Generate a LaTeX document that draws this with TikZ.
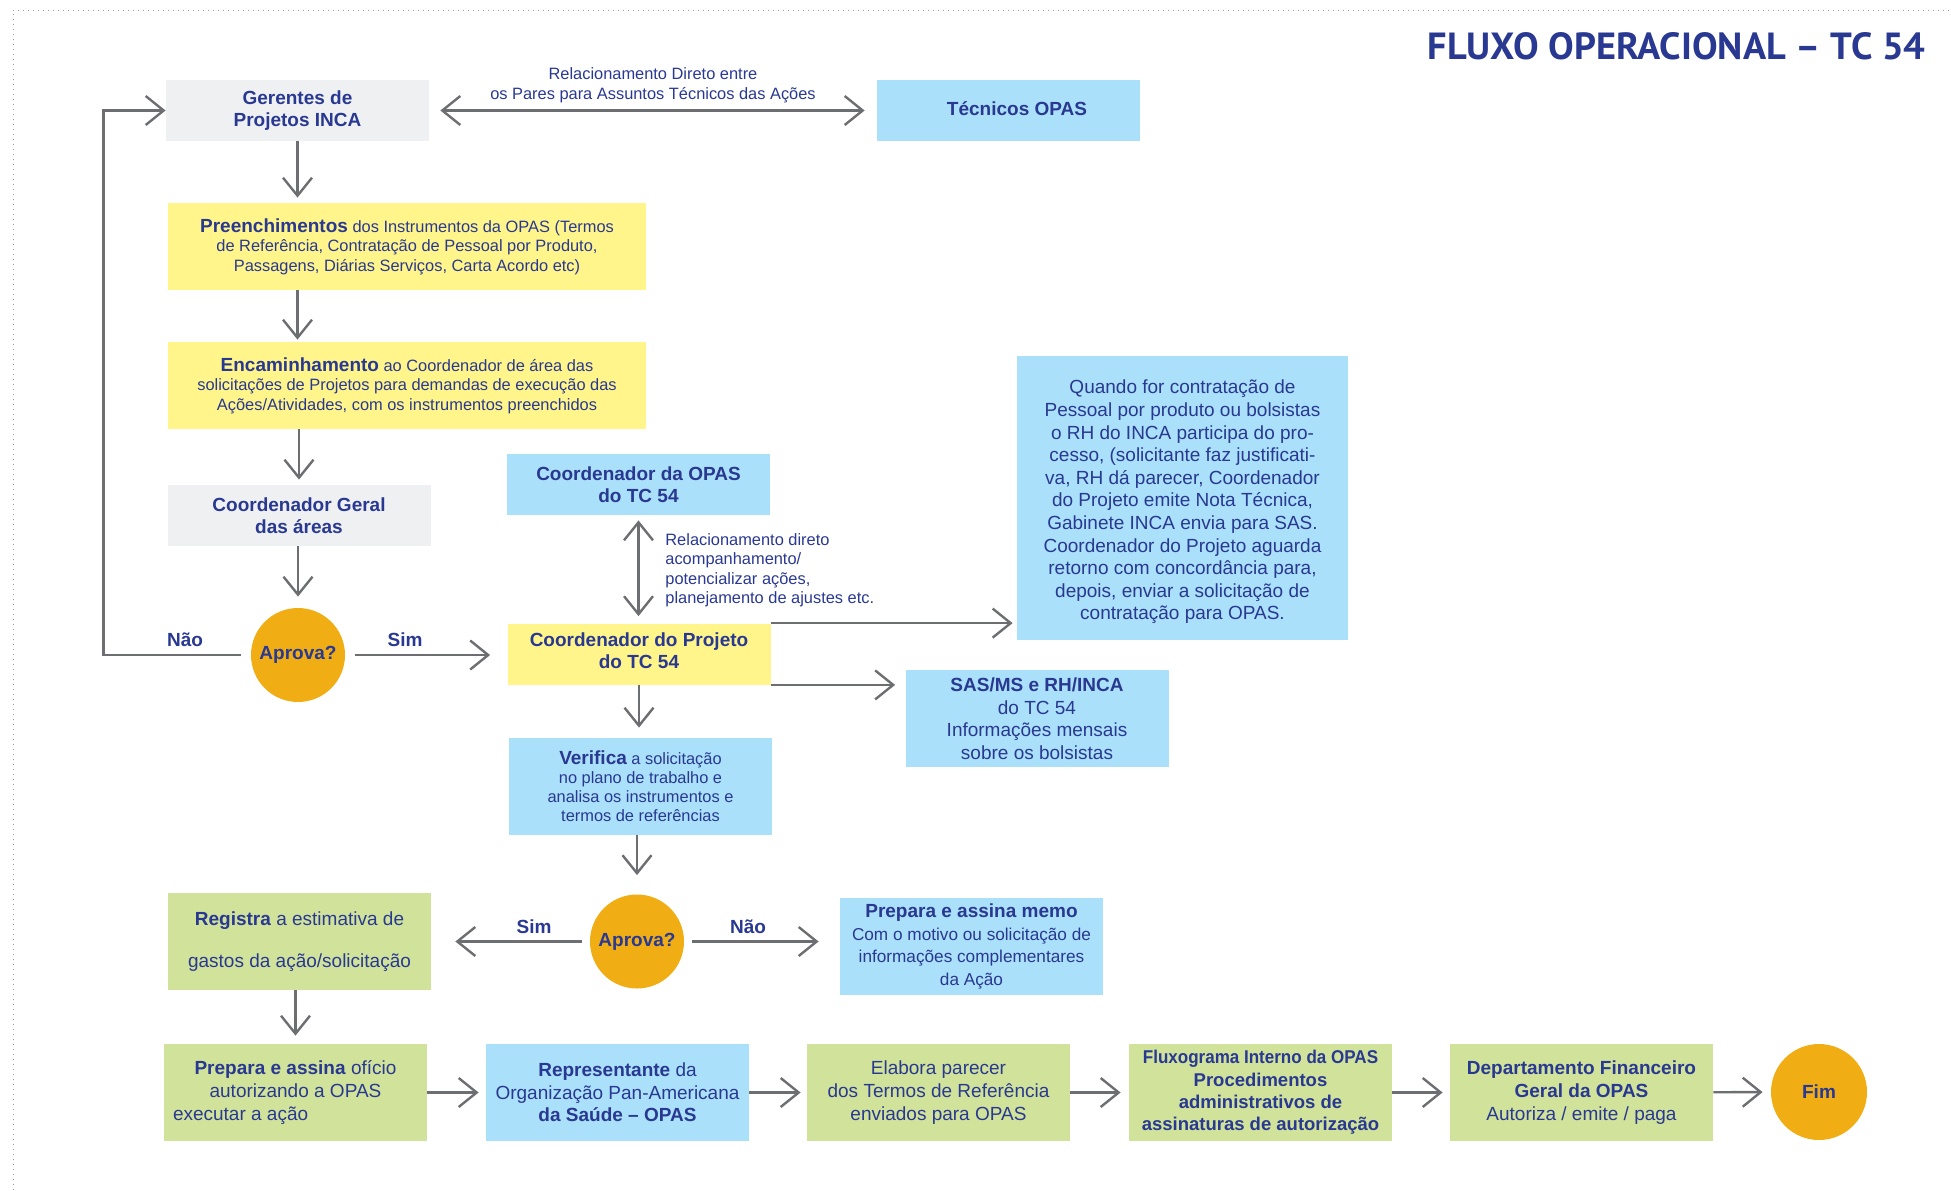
\documentclass[tikz,border=0pt]{standalone}
\usepackage{graphicx}
\usepackage{fontspec}
\setmainfont{Liberation Sans}
\newfontfamily\titlefont{PT Sans}
\usetikzlibrary{arrows.meta}

\definecolor{inkblue}{RGB}{41,56,145}
\definecolor{boxgray}{RGB}{239,240,242}
\definecolor{boxblue}{RGB}{170,224,250}
\definecolor{boxyellow}{RGB}{255,245,138}
\definecolor{boxgreen}{RGB}{209,227,155}
\definecolor{aprovaorange}{RGB}{240,174,20}
\definecolor{linegray}{RGB}{109,110,113}

\newcommand\hdfont{\fontsize{9.5pt}{11pt}\selectfont}
\newcommand\smfont{\fontsize{8.2pt}{9.75pt}\selectfont}
\newcommand\mdfont{\fontsize{9.5pt}{11.3pt}\selectfont}

\begin{document}
\begin{tikzpicture}[x=0.5pt,y=0.5pt,yscale=-1,
  box/.style={rectangle, inner sep=0pt, align=center, text=inkblue,
    minimum width=131.5pt, minimum height=30.5pt, font=\hdfont\bfseries},
  tall/.style={minimum height=48.5pt},
  wide/.style={minimum width=239pt, minimum height=43.5pt, font=\smfont},
  graybox/.style={box, fill=boxgray},
  bluebox/.style={box, fill=boxblue},
  yellowbox/.style={box, fill=boxyellow},
  greenbox/.style={box, fill=boxgreen, tall, font=\mdfont},
  decision/.style={circle, fill=aprovaorange, inner sep=0pt, minimum size=47pt,
    text=inkblue, font=\hdfont\bfseries},
  lbl/.style={inner sep=0pt, text=inkblue, font=\hdfont\bfseries},
  note/.style={inner sep=0pt, text=inkblue, font=\smfont},
  flow/.style={draw=linegray, line width=1.2pt,
    -{Straight Barb[length=9pt,width=14.5pt]}},
  twoway/.style={flow, {Straight Barb[length=9pt,width=14.5pt]}-{Straight Barb[length=9pt,width=14.5pt]}}
]
\useasboundingbox (0,0) rectangle (1951,1190);
% dotted frame
\draw[linegray!70, dotted, line width=0.5pt] (13,1190) -- (13,10) -- (1951,10);

% Title
\node[anchor=south east, inner sep=0pt, text=inkblue] (title) at (1926,60)
  {\resizebox{249pt}{13.5pt}{\titlefont\bfseries FLUXO OPERACIONAL – TC 54}};

% Text Node
\node[graybox] (ger) at (297.5,110.5) {Gerentes de\\Projetos INCA};
% Text Node
\node[bluebox] (tec) at (1008.5,110.5) {\hspace*{8.5pt}Técnicos OPAS\rule[-1.5pt]{0pt}{1pt}};
% Text Node
\node[yellowbox, wide] (pre) at (407,246.5) {{\hdfont\bfseries Preenchimentos} dos Instrumentos da OPAS (Termos\\de Referência, Contratação de Pessoal por Produto,\\Passagens, Diárias Serviços, Carta Acordo etc)};
% Text Node
\node[yellowbox, wide] (enc) at (407,385.5) {{\hdfont\bfseries Encaminhamento} ao Coordenador de área das\\solicitações de Projetos para demandas de execução das\\Ações/Atividades, com os instrumentos preenchidos};
% Text Node
\node[graybox] (cger) at (299,515.5) {Coordenador Geral\\das áreas};
% Circle
\node[decision] (apr1) at (298,655) {Aprova?};
% Text Node
\node[bluebox] (copas) at (638.5,484.5) {Coordenador da OPAS\\do TC 54};
% Text Node
\node[yellowbox] (cproj) at (639,654) {Coordenador do Projeto\\do TC 54\rule[-3pt]{0pt}{1pt}};
% Text Node
\node[bluebox, minimum width=165.5pt, minimum height=142pt, font=\mdfont] (quando) at (1182.5,498) {\rule{0pt}{11pt}Quando for contratação de\\Pessoal por produto ou bolsistas\\o RH do INCA participa do pro-\\cesso, (solicitante faz justificati-\\va, RH dá parecer, Coordenador\\do Projeto emite Nota Técnica,\\Gabinete INCA envia para SAS.\\Coordenador do Projeto aguarda\\retorno com concordância para,\\depois, enviar a solicitação de\\contratação para OPAS.};
% Text Node
\node[bluebox, tall, font=\mdfont] (sas) at (1037,718.5) {\textbf{SAS/MS e RH/INCA}\\do TC 54\\Informações mensais\\sobre os bolsistas};
% Text Node
\node[bluebox, tall, font=\fontsize{8.2pt}{9.5pt}\selectfont] (ver) at (640.5,786.5) {{\hdfont\bfseries Verifica} a solicitação\\no plano de trabalho e\\analisa os instrumentos e\\termos de referências};
% Circle
\node[decision] (apr2) at (637,941.5) {Aprova?};
% Text Node
\node[greenbox] (reg) at (299.5,941.5) {\textbf{Registra} a estimativa de\\[10pt]gastos da ação/solicitação};
% Text Node
\node[bluebox, tall, font=\fontsize{8.6pt}{11.4pt}\selectfont] (memo) at (971.5,946.5) {{\hdfont\bfseries Prepara e assina memo}\\Com o motivo ou solicitação de\\informações complementares\\da Ação};
% Text Node
\node[greenbox] (ofi) at (295.5,1092.5) {\textbf{Prepara e assina} ofício\\autorizando a OPAS\\\makebox[122.5pt][l]{executar a ação}};
% Text Node
\node[bluebox, tall, font=\mdfont] (rep) at (617.5,1092.5) {\textbf{Representante} da\\Organização Pan-Americana\\\textbf{da Saúde – OPAS}};
% Text Node
\node[greenbox] (ela) at (938.5,1092.5) {Elabora parecer\\dos Termos de Referência\\enviados para OPAS};
% Text Node
\node[greenbox, font=\fontsize{9.25pt}{11.1pt}\selectfont\bfseries] (flx) at (1260.5,1092.5) {\scalebox{0.92}[1]{Fluxograma Interno da OPAS}\\Procedimentos\\administrativos de\\assinaturas de autorização};
% Text Node
\node[greenbox, font=\mdfont\bfseries] (dep) at (1581.5,1092.5) {Departamento Financeiro\\Geral da OPAS\\\mdseries Autoriza / emite / paga};
% Circle
\node[decision, minimum size=48pt] (fim) at (1819,1092) {Fim};

% Labels
\node[note, anchor=south, align=center] (relpares) at (653,103) {Relacionamento Direto entre\\os Pares para Assuntos Técnicos das Ações};
\node[note, anchor=west, align=left] (relcoord) at (665,570) {Relacionamento direto\\acompanhamento/\\potencializar ações,\\planejamento de ajustes etc.};
\node[lbl] (nao1) at (185,640) {Não};
\node[lbl] (sim1) at (405,640) {Sim};
\node[lbl] (sim2) at (534,927) {Sim};
\node[lbl] (nao2) at (748,927) {Não};

%Straight Lines
\draw[twoway, shorten <=5.5pt, shorten >=6pt] (ger.east) -- (tec.west);
\draw[flow, shorten <=5pt] (apr1.west) -- ++(-147,0) |- (ger.west);
\draw[flow, shorten >=2.5pt] (ger.south) -- (ger.south |- pre.north);
\draw[flow, shorten >=1pt] (pre.south -| ger.south) -- (enc.north -| ger.south);
\draw[flow, shorten >=2.5pt] (enc.south -| cger.south) -- (cger.north);
\draw[flow, shorten >=5.5pt] (cger.south -| apr1.north) -- (apr1.north);
\draw[flow, shorten <=5pt, shorten >=8.5pt] (apr1.east) -- (apr1.east -| cproj.west);
\draw[twoway, shorten <=2.5pt, shorten >=3.5pt] (copas.south) -- (copas.south |- cproj.north);
\draw[flow, shorten >=2pt] (cproj.north east) -- (cproj.north east -| quando.west);
\draw[flow, shorten >=5pt] (cproj.south east) -- (cproj.south east -| sas.west);
\draw[flow, shorten >=5pt] (cproj.south) -- (cproj.south |- ver.north);
\draw[flow, shorten >=9.5pt] (ver.south -| apr2.north) -- (apr2.north);
\draw[flow, shorten <=4pt, shorten >=12pt] (apr2.west) -- (apr2.west -| reg.east);
\draw[flow, shorten <=4pt, shorten >=10.5pt] (apr2.east) -- (apr2.east -| memo.west);
\draw[flow, shorten >=4pt] (reg.south -| ofi.north) -- (ofi.north);
\draw[flow, shorten >=3.5pt] (ofi) -- (rep);
\draw[flow, shorten >=3pt] (rep) -- (ela);
\draw[flow, shorten >=4pt] (ela) -- (flx);
\draw[flow, shorten >=3.5pt] (flx) -- (dep);
\draw[flow, shorten >=4pt] (dep) -- (fim);

\end{tikzpicture}
\end{document}
